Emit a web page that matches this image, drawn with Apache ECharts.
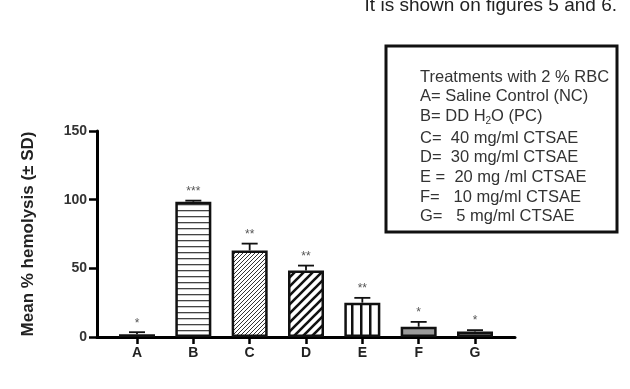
<!DOCTYPE html>
<html>
<head>
<meta charset="utf-8">
<script src="https://cdn.jsdelivr.net/npm/echarts@6/dist/echarts.min.js"></script>
<style>
  html, body { margin: 0; padding: 0; background: #fff; }
  #chart { width: 630px; height: 389px; }
</style>
</head>
<body>
<div id="chart"></div>
<script>
var categories = ['A', 'B', 'C', 'D', 'E', 'F', 'G'];
var means = [2, 98.5, 63, 48.5, 25, 7.5, 4];
var sds = [1.5, 0.8, 5, 3.5, 3.5, 3.5, 1];
var stars = ['*', '***', '**', '**', '**', '*', '*'];
var legendLines = [
    'Treatments with 2 % RBC',
    'A= Saline Control (NC)',
    'B= DD H{sub|2}O (PC)',
    'C=  40 mg/ml CTSAE',
    'D=  30 mg/ml CTSAE',
    'E =  20 mg /ml CTSAE',
    'F=   10 mg/ml CTSAE',
    'G=   5 mg/ml CTSAE'
];

var FONT = '"Liberation Sans", Arial, sans-serif';

// fill patterns, one per bar
function makePattern(w, h, draw) {
    var c = document.createElement('canvas');
    c.width = w; c.height = h;
    var ctx = c.getContext('2d');
    draw(ctx, w, h);
    return { image: c, repeat: 'repeat' };
}
function hatch(size, lw, col) {
    return makePattern(size, size, function (ctx, w, h) {
        ctx.fillStyle = '#fff'; ctx.fillRect(0, 0, w, h);
        ctx.strokeStyle = col; ctx.lineWidth = lw;
        ctx.beginPath();
        ctx.moveTo(0, h); ctx.lineTo(w, 0);
        ctx.moveTo(-w, h); ctx.lineTo(w, -h);
        ctx.moveTo(0, 2 * h); ctx.lineTo(2 * w, 0);
        ctx.stroke();
    });
}
var fills = [
    '#222',
    makePattern(8, 6, function (ctx, w, h) {
        ctx.fillStyle = '#fff'; ctx.fillRect(0, 0, w, h);
        ctx.fillStyle = '#444'; ctx.fillRect(0, 0, w, 1.3);
    }),
    hatch(4, 1, '#333'),
    hatch(9, 2.6, '#111'),
    makePattern(9.5, 8, function (ctx, w, h) {
        ctx.fillStyle = '#fff'; ctx.fillRect(0, 0, w, h);
        ctx.fillStyle = '#111'; ctx.fillRect(0, 0, 2.5, h);
    }),
    '#9a9a9a',
    '#888'
];

var barData = means.map(function (v, i) {
    return { value: [i, v], itemStyle: { color: fills[i] } };
});
var errData = means.map(function (v, i) {
    return [i, v, sds[i]];
});

var legendText = legendLines.map(function (t, i) {
    return {
        type: 'text',
        left: 420,
        top: 68.5 + i * 19.7 + (i > 2 ? 2 : 0),
        style: {
            text: t,
            fill: '#333',
            font: '16.5px ' + FONT,
            rich: { sub: { fontSize: 10, padding: [9, 0, 0, 0], fill: '#333' } }
        }
    };
});

var chart = echarts.init(document.getElementById('chart'));
chart.setOption({
    animation: false,
    grid: { left: 97, right: 115, top: 131, bottom: 52 },
    xAxis: {
        type: 'value',
        min: -0.71,
        max: 6.71,
        splitLine: { show: false },
        axisLine: { show: true, onZero: false, lineStyle: { color: '#000', width: 3 } },
        axisTick: { show: true, inside: false, length: 7, customValues: [0, 1, 2, 3, 4, 5, 6],
            lineStyle: { color: '#000', width: 2.5 } },
        axisLabel: {
            customValues: [0, 1, 2, 3, 4, 5, 6],
            formatter: function (v) { return categories[Math.round(v)]; },
            color: '#222', fontWeight: 'bold', fontSize: 14, margin: 9,
            fontFamily: FONT
        }
    },
    yAxis: {
        type: 'value',
        min: 0,
        max: 150,
        interval: 50,
        name: 'Mean % hemolysis (\u00b1 SD)',
        nameLocation: 'middle',
        nameGap: 60,
        nameTextStyle: { color: '#222', fontWeight: 'bold', fontSize: 17, fontFamily: FONT },
        splitLine: { show: false },
        axisLine: { show: true, onZero: false, lineStyle: { color: '#000', width: 3 } },
        axisTick: { show: true, length: 8, lineStyle: { color: '#000', width: 2.5 } },
        axisLabel: {
            color: '#333', fontWeight: 'bold', fontSize: 14, margin: 10,
            fontFamily: FONT
        }
    },
    series: [
        {
            type: 'bar',
            barWidth: 36,
            data: barData,
            itemStyle: { borderColor: '#111', borderWidth: 2.5 }
        },
        {
            type: 'custom',
            data: errData,
            z: 5,
            renderItem: function (params, api) {
                var x = api.value(0), v = api.value(1), sd = api.value(2);
                var p0 = api.coord([x, v]);
                var p1 = api.coord([x, v + sd]);
                var cap = 8;
                return {
                    type: 'group',
                    children: [
                        { type: 'line', shape: { x1: p0[0], y1: p0[1], x2: p1[0], y2: p1[1] },
                          style: { stroke: '#111', lineWidth: 1.8 } },
                        { type: 'line', shape: { x1: p1[0] - cap, y1: p1[1], x2: p1[0] + cap, y2: p1[1] },
                          style: { stroke: '#111', lineWidth: 1.8 } },
                        { type: 'text', x: p1[0], y: p1[1] - 3,
                          style: { text: stars[params.dataIndex], fill: '#555', align: 'center',
                                   verticalAlign: 'bottom', font: '12px ' + FONT } }
                    ]
                };
            }
        }
    ],
    graphic: [
        {
            type: 'text',
            right: 13,
            top: -4,
            style: { text: 'It is shown on figures 5 and 6.', fill: '#222', font: '19px ' + FONT }
        },
        {
            type: 'rect',
            shape: { x: 386, y: 46, width: 231, height: 186 },
            style: { fill: '#fff', stroke: '#111', lineWidth: 3 }
        }
    ].concat(legendText)
});
</script>
</body>
</html>
